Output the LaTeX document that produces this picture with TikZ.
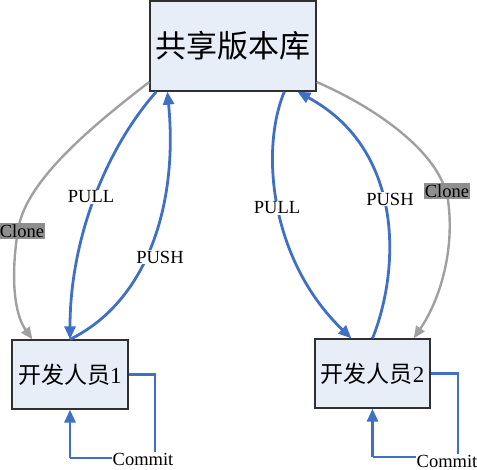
\documentclass[tikz,border=0pt]{standalone}
\usepackage{fontspec}
\setmainfont{Liberation Serif}
\newfontfamily\cjk{Noto Sans CJK SC}
\usetikzlibrary{arrows.meta,calc}
\definecolor{boxfill}{HTML}{E8EEF8}
\definecolor{boxline}{HTML}{303030}
\definecolor{flowblue}{HTML}{3F70C4}
\definecolor{clonegray}{HTML}{A0A0A0}
\definecolor{labelgray}{HTML}{8E8E8E}
\tikzset{
  repobox/.style={draw=boxline, fill=boxfill, line width=1.3pt, inner sep=0pt},
  bluearrow/.style={draw=flowblue, line width=2.8pt, -{Triangle[length=13pt,width=11pt]}},
  grayarrow/.style={draw=clonegray, line width=2.4pt, -{Triangle[length=12pt,width=10pt]}},
  bluepath/.style={draw=flowblue, line width=2.8pt},
  flowlabel/.style={fill=white, inner sep=1pt, font=\fontsize{18.5}{18.5}\selectfont},
  clonelabel/.style={fill=labelgray, inner sep=1pt, font=\fontsize{18.5}{18.5}\selectfont}
}
\begin{document}
\begin{tikzpicture}[x=1pt,y=-1pt]
\useasboundingbox (0,0) rectangle (477,470);
% boxes
\node[repobox, minimum width=166pt, minimum height=90pt] (top) at (233,46)
  {\cjk\fontsize{31}{31}\selectfont 共享版本库};
\node[repobox, minimum width=116pt, minimum height=69pt] (box1) at (70,374.5)
  {\fontsize{23}{23}\selectfont{\cjk 开发人员}1};
\node[repobox, minimum width=115pt, minimum height=69pt] (box2) at (372.5,373.5)
  {\fontsize{23}{23}\selectfont{\cjk 开发人员}2};
% left side
\draw[bluearrow] ($(top.south west)+(7,0)$) .. controls (105,150) and (70,240) .. (box1.north);
\draw[bluearrow] (box1.north) .. controls (150,300) and (178,200) .. ($(top.south west)+(18,0)$);
\draw[grayarrow] ($(top.west)+(0,36)$) .. controls (80,135) and (25,185) .. (18,230)
  .. controls (10,280) and (15,315) .. ($(box1.north west)+(21,0)$);
% right side
\draw[bluearrow] ($(top.south west)+(135,0)$) .. controls (260,150) and (270,260) .. ($(box2.north west)+(37,0)$);
\draw[bluearrow] (box2.north) .. controls (400,270) and (405,150) .. ($(top.south west)+(148,0)$);
\draw[grayarrow] ($(top.east)+(0,36)$) .. controls (370,105) and (440,150) .. (448,200)
  .. controls (455,250) and (440,300) .. ($(box2.north east)+(-17,0)$);
% commit loops
\coordinate (c1a) at (155,374.5);
\coordinate (c1b) at (155,458);
\coordinate (c1c) at (70,458);
\draw[bluepath] (box1.east) -- (c1a) -- (c1b) -- (c1c);
\draw[bluearrow] (c1c) -- (box1.south);
\coordinate (c2a) at (458,373.5);
\coordinate (c2b) at (458,457);
\coordinate (c2c) at (372.5,457);
\draw[bluepath] (box2.east) -- (c2a) -- (c2b) -- (c2c);
\draw[bluearrow] (c2c) -- (box2.south);
% labels
\node[flowlabel] (pull1) at (91,197) {PULL};
\node[flowlabel] (push1) at (160,257) {PUSH};
\node[clonelabel] (clone1) at (22,231) {Clone};
\node[flowlabel] (pull2) at (277,208) {PULL};
\node[flowlabel] (push2) at (390,199) {PUSH};
\node[clonelabel] (clone2) at (447,191) {Clone};
\node[flowlabel] (commit1) at (143,459) {Commit};
\node[flowlabel] (commit2) at (447,461) {Commit};
\end{tikzpicture}
\end{document}
